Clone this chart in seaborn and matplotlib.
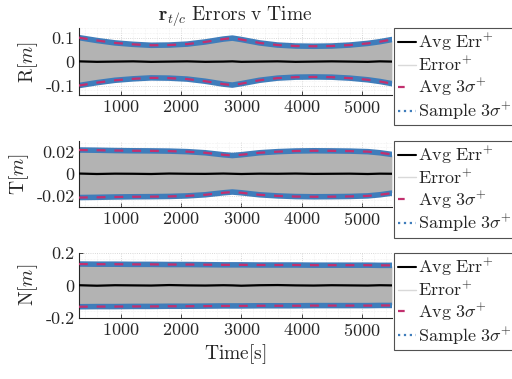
import numpy as np
import pandas as pd
import matplotlib
matplotlib.use('Agg')
import matplotlib.pyplot as plt
from matplotlib.lines import Line2D
from matplotlib.ticker import FuncFormatter, MultipleLocator
import seaborn as sns

# values
t = [300, 600, 900, 1200, 1500, 1800, 2100, 2400, 2700, 2850,
     3000, 3300, 3600, 3900, 4200, 4500, 4800, 5100, 5300, 5500]
sig_R = [0.100, 0.088, 0.078, 0.072, 0.068, 0.069, 0.073, 0.082, 0.094, 0.098,
         0.092, 0.078, 0.069, 0.065, 0.064, 0.065, 0.069, 0.076, 0.083, 0.092]
sig_T = [0.0215, 0.0213, 0.0210, 0.0208, 0.0207, 0.0205, 0.0200, 0.0190, 0.0172, 0.0165,
         0.0172, 0.0190, 0.0200, 0.0206, 0.0208, 0.0207, 0.0205, 0.0200, 0.0190, 0.0175]
sig_N = [0.131, 0.130, 0.130, 0.129, 0.129, 0.128, 0.128, 0.127, 0.126, 0.126,
         0.126, 0.125, 0.125, 0.125, 0.124, 0.124, 0.124, 0.124, 0.123, 0.123]
avg_R = [0.001, -0.001, 0.000, 0.001, -0.001, 0.000, 0.001, -0.001, 0.000, 0.001,
         -0.001, 0.000, 0.001, -0.001, 0.000, 0.001, 0.000, -0.001, 0.001, 0.000]
avg_T = [0.0002, -0.0002, 0.0001, 0.0000, -0.0002, 0.0002, 0.0000, -0.0001, 0.0002, 0.0000,
         -0.0002, 0.0001, 0.0000, 0.0002, -0.0001, 0.0000, 0.0001, -0.0002, 0.0001, 0.0000]
avg_N = [0.001, -0.002, 0.001, 0.000, -0.001, 0.002, 0.000, -0.001, 0.001, 0.000,
         -0.002, 0.001, 0.002, 0.000, -0.001, 0.001, 0.000, -0.001, 0.001, 0.000]

ylabels = ['R', 'T', 'N']
ylims = [0.14, 0.03, 0.2]
yticks = [[-0.1, 0, 0.1], [-0.02, 0, 0.02], [-0.2, 0, 0.2]]
sigmas = [sig_R, sig_T, sig_N]
avgs = [avg_R, avg_T, avg_N]

sns.set_theme(style='white')
plt.rcParams['font.family'] = ['cmr10']
plt.rcParams['mathtext.fontset'] = 'cm'
plt.rcParams['axes.unicode_minus'] = False
plt.rcParams['axes.formatter.use_mathtext'] = True

c_err = '#b3b3b3'
c_avg3 = '#c2306e'
c_samp = '#3f7dbb'

fig = plt.figure(figsize=(5.12, 3.79), dpi=100)
rects = [[0.154, 0.749, 0.612, 0.177],
         [0.154, 0.454, 0.612, 0.175],
         [0.154, 0.161, 0.612, 0.172]]

def fmt(v, pos):
    if abs(v) < 1e-12:
        return '0'
    return ('%g' % v)

for i in range(3):
    ax = fig.add_axes(rects[i])
    df = pd.DataFrame({'t': t, 's': sigmas[i], 'a': avgs[i]})
    df['ns'] = -df['s']
    ax.fill_between(df['t'], -df['s'] * 0.97, df['s'] * 0.97, color=c_err, lw=0, zorder=1)
    sns.lineplot(data=df, x='t', y='s', ax=ax, color=c_samp, lw=4, zorder=2)
    sns.lineplot(data=df, x='t', y='ns', ax=ax, color=c_samp, lw=4, zorder=2)
    sns.lineplot(data=df, x='t', y='s', ax=ax, color=c_avg3, lw=1.6, dashes=(4, 4), zorder=3)
    sns.lineplot(data=df, x='t', y='ns', ax=ax, color=c_avg3, lw=1.6, dashes=(4, 4), zorder=3)
    sns.lineplot(data=df, x='t', y='a', ax=ax, color='black', lw=1.6, zorder=4)

    ax.set_xlim(300, 5505)
    ax.set_ylim(-ylims[i], ylims[i])
    ax.set_yticks(yticks[i])
    ax.set_xticks([1000, 2000, 3000, 4000, 5000])
    ax.xaxis.set_minor_locator(MultipleLocator(200))
    ax.yaxis.set_minor_locator(MultipleLocator(yticks[i][2] / 5))
    ax.yaxis.set_major_formatter(FuncFormatter(fmt))
    ax.grid(True, which='major', ls=':', lw=0.6, color='#cccccc')
    ax.grid(True, which='minor', ls=':', lw=0.4, color='#e4e4e4')
    ax.tick_params(axis='both', which='major', direction='in', length=3, width=0.6,
                   labelsize=13, pad=3, left=True, bottom=True, color='#262626')
    ax.tick_params(axis='both', which='minor', length=0)
    for s in ['top', 'right']:
        ax.spines[s].set_visible(False)
    for s in ['left', 'bottom']:
        ax.spines[s].set_color('#262626')
        ax.spines[s].set_linewidth(0.8)
    ax.set_xlabel('')
    ax.set_ylabel(r'$\mathrm{%s}[m]$' % ylabels[i], fontsize=14, labelpad=4)
    ax.set_axisbelow(True)

    handles = [Line2D([], [], color='black', lw=1.5),
               Line2D([], [], color='#d9d9d9', lw=1),
               Line2D([], [], color=c_avg3, lw=1.6, dashes=(3, 10)),
               Line2D([], [], color=c_samp, lw=1.6, ls=':')]
    labels = [r'$\mathrm{Avg\ Err}^{+}$', r'$\mathrm{Error}^{+}$',
              r'$\mathrm{Avg}\ 3\sigma^{+}$', r'$\mathrm{Sample}\ 3\sigma^{+}$']
    leg = ax.legend(handles, labels, loc='upper left', bbox_to_anchor=(1.006, 1.0),
                    fontsize=13, frameon=True, fancybox=False, handlelength=1.0,
                    handletextpad=0.15, labelspacing=0.12, borderpad=0.2,
                    borderaxespad=0)
    leg.get_frame().set_edgecolor('#262626')
    leg.get_frame().set_linewidth(0.8)

    if i == 0:
        ax.set_title(r'$\mathbf{r}_{t/c}\ \mathrm{Errors\ v\ Time}$', fontsize=14, pad=6)
    if i == 2:
        ax.set_xlabel(r'$\mathrm{Time[s]}$', fontsize=14, labelpad=2)

fig.savefig('out.png', dpi=100)
